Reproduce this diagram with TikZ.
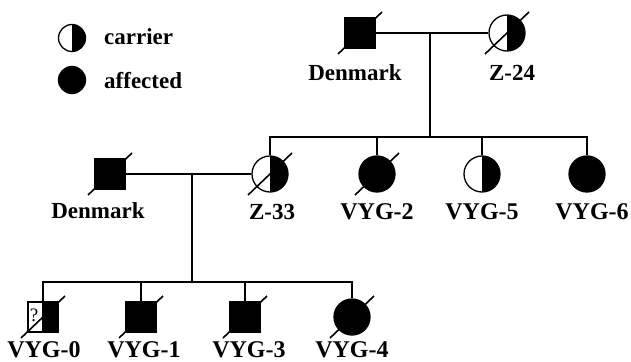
\documentclass[tikz,border=0pt]{standalone}
\usepackage{fontspec}
\setmainfont{Liberation Serif}
\usetikzlibrary{calc}
\begin{document}
\begin{tikzpicture}[x=1pt,y=-1pt,
  lw/.style={line width=1.6pt},
  male/.style={rectangle, draw, fill=black, minimum size=30pt, inner sep=0pt, line width=1.3pt},
  femA/.style={circle, draw, fill=black, minimum size=36pt, inner sep=0pt, line width=1.3pt},
  femC/.style={circle, draw, fill=white, minimum size=36pt, inner sep=0pt, line width=1.3pt,
    path picture={\fill[black] (path picture bounding box.north) rectangle (path picture bounding box.south east);}},
  legA/.style={femA, minimum size=27pt},
  legC/.style={femC, minimum size=27pt},
  lbl/.style={font=\fontsize{23}{23}\selectfont\bfseries, anchor=base, inner sep=0pt},
  vlbl/.style={font=\fontsize{24}{24}\selectfont\bfseries, anchor=base, inner sep=0pt},
  leglbl/.style={font=\fontsize{23}{23}\selectfont\bfseries, anchor=base west, inner sep=0pt},
  slash/.style={line width=1.6pt}
]
\useasboundingbox (0,0) rectangle (631,361);

% legend
\node[legC] (lc) at (72,38) {};
\node[legA] (la) at (72,80) {};
\node[leglbl] (lct) at (104,45) {carrier};
\node[leglbl] (lat) at (104,88) {affected};

% generation I
\node[male] (dk1) at (360,33) {};
\node[femC] (z24) at (507,33) {};
\coordinate (m1) at (430,33);
\coordinate (s1) at (430,137);
\node[lbl] (dk1t) at (355,80) {Denmark};
\node[lbl] (z24t) at (512,80) {Z-24};

% generation II
\node[male] (dk2) at (110,174) {};
\node[femC] (z33) at (270,174) {};
\node[femA] (vyg2) at (377,174) {};
\node[femC] (vyg5) at (482,174) {};
\node[femA] (vyg6) at (587,174) {};
\coordinate (m2) at (192,174);
\coordinate (s2) at (192,282);
\node[lbl] (dk2t) at (98,218) {Denmark};
\node[lbl] (z33t) at (272,219) {Z-33};
\node[vlbl] (vyg2t) at (377,219) {VYG-2};
\node[vlbl] (vyg5t) at (482,219) {VYG-5};
\node[vlbl] (vyg6t) at (592,219) {VYG-6};

% generation III
\node[rectangle, draw, fill=white, minimum size=30pt, inner sep=0pt, line width=1.3pt,
  path picture={\fill[black] (path picture bounding box.north) rectangle (path picture bounding box.south east);
                \draw[line width=1.3pt] (path picture bounding box.north) -- (path picture bounding box.south);}]
  (vyg0) at (43,317) {};
\node[font=\fontsize{19}{19}\selectfont, inner sep=0pt] (q) at (34,315) {?};
\node[male] (vyg1) at (141,317) {};
\node[male] (vyg3) at (245,317) {};
\node[femA] (vyg4) at (352,317) {};
\node[vlbl] (vyg0t) at (44,357) {VYG-0};
\node[vlbl] (vyg1t) at (144,357) {VYG-1};
\node[vlbl] (vyg3t) at (249,357) {VYG-3};
\node[vlbl] (vyg4t) at (352,357) {VYG-4};

% connectors
\draw[lw] (dk1.east) -- (z24.west);
\draw[lw] (m1) -- (s1);
\draw[lw] (z33.north) -- (z33.north |- s1) -- (vyg6.north |- s1) -- (vyg6.north);
\draw[lw] (vyg2.north) -- (vyg2.north |- s1);
\draw[lw] (vyg5.north) -- (vyg5.north |- s1);

\draw[lw] (dk2.east) -- (z33.west);
\draw[lw] (m2) -- (s2);
\draw[lw] (vyg0.north) -- (vyg0.north |- s2) -- (vyg4.north |- s2) -- (vyg4.north);
\draw[lw] (vyg1.north) -- (vyg1.north |- s2);
\draw[lw] (vyg3.north) -- (vyg3.north |- s2);

% deceased slashes
\foreach \n in {dk1,z24,dk2,z33,vyg2,vyg0,vyg1,vyg3,vyg4}
  \draw[slash] ($(\n)+(-22,21)$) -- ($(\n)+(22,-21)$);
\end{tikzpicture}
\end{document}
